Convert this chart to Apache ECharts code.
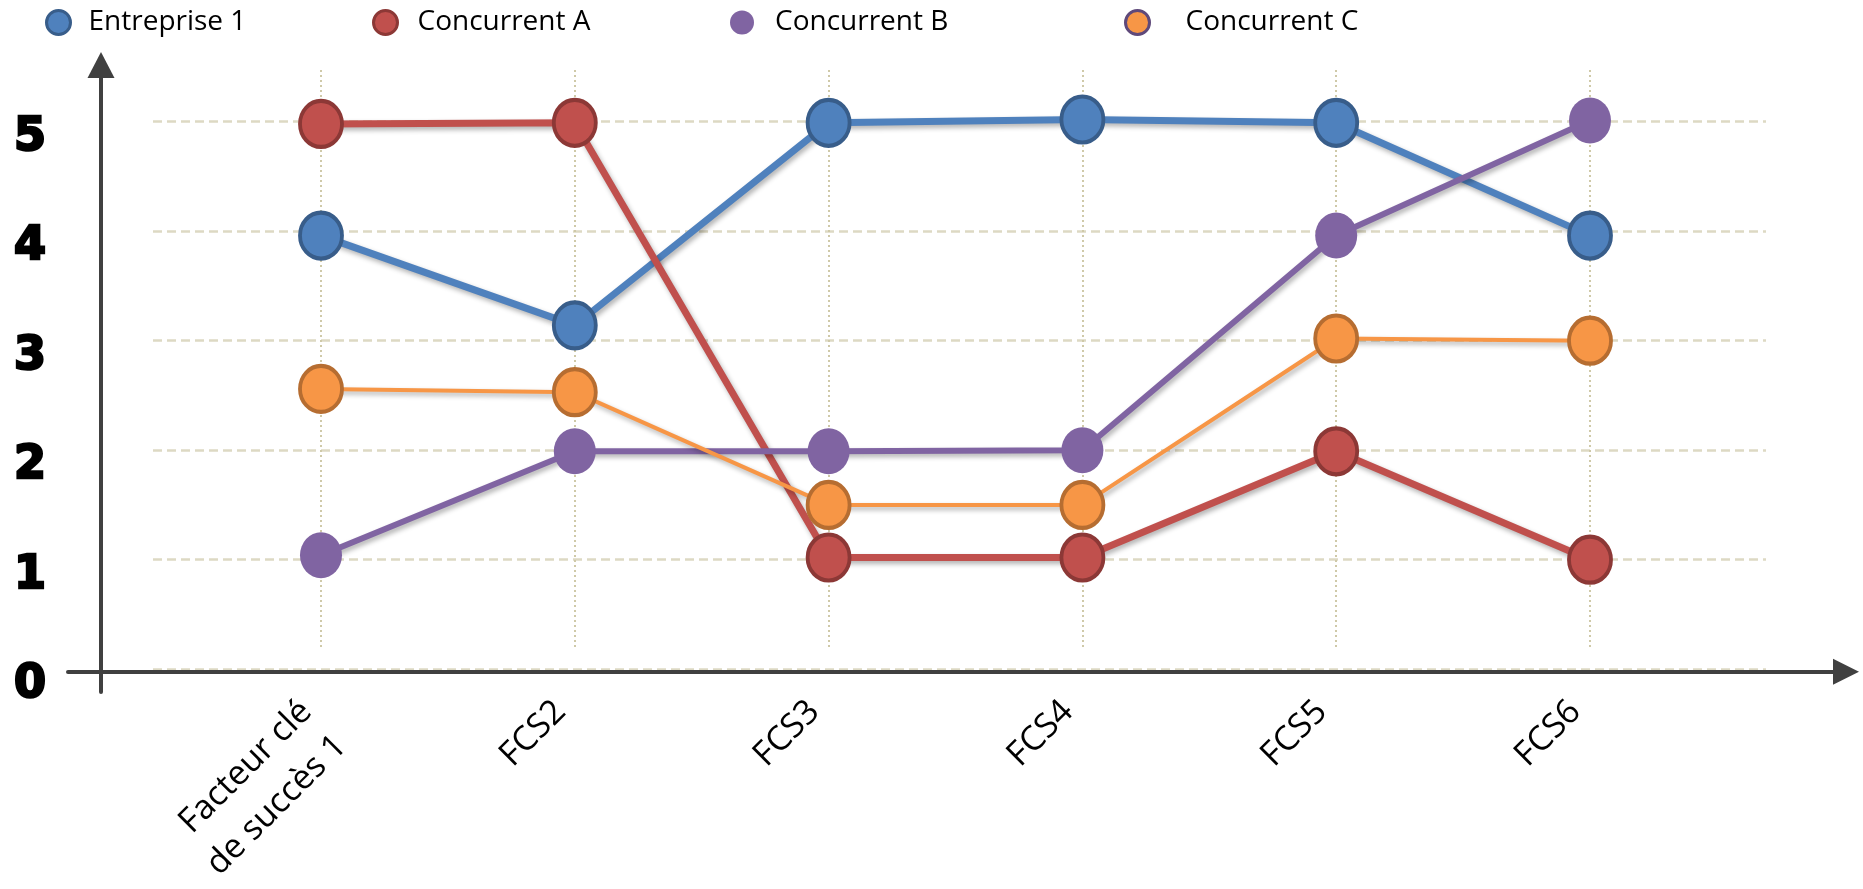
<!DOCTYPE html>
<html>
<head>
<meta charset="utf-8">
<script src="https://cdn.jsdelivr.net/npm/echarts@6/dist/echarts.min.js"></script>
<style>
html,body{margin:0;padding:0;background:#fff;}
#chart{width:1863px;height:889px;}
</style>
</head>
<body>
<div id="chart"></div>
<script>
var categories = ['Facteur clé\nde succès 1', 'FCS2', 'FCS3', 'FCS4', 'FCS5', 'FCS6'];
var yTickLabels = ['0', '1', '2', '3', '4', '5'];
var seriesNames = ['Entreprise 1', 'Concurrent A', 'Concurrent B', 'Concurrent C'];
var entreprise1 = [3.96, 3.14, 4.99, 5.02, 4.99, 3.96];
var concurrentA = [4.98, 4.99, 1.02, 1.02, 1.99, 1.0];
var concurrentB = [1.04, 1.99, 1.99, 2.0, 3.96, 5.01];
var concurrentC = [2.56, 2.53, 1.5, 1.5, 3.02, 3.0];

var ELLIPSE = 'path://M0,-1A1,1,0,1,1,0,1A1,1,0,1,1,0,-1Z';
var FONT = 'Open Sans';
var AXIS_COLOR = '#404040';

var styles = [
  {line: '#4F81BD', fill: '#4F81BD', border: '#385D8A', bw: 4, lw: 7, legendBorder: '#385D8A'},
  {line: '#C0504D', fill: '#C0504D', border: '#8C3836', bw: 4, lw: 7, legendBorder: '#8C3836'},
  {line: '#8064A2', fill: '#8064A2', border: '#8064A2', bw: 0, lw: 6, legendBorder: '#8064A2'},
  {line: '#F79646', fill: '#F79646', border: '#B66D31', bw: 4, lw: 4, legendBorder: '#5F497A'}
];
var values = [entreprise1, concurrentA, concurrentB, concurrentC];

var legendLefts = [45, 372, 730, 1124];
var legendTextPad = [13, 15, 16, 31];

var legends = seriesNames.map(function (n, i) {
  return {
    left: legendLefts[i], top: 8.5, padding: 0,
    itemWidth: 24, itemHeight: 27,
    selectedMode: false,
    textStyle: {fontFamily: FONT, fontSize: 28, color: '#000', padding: [0, 0, 0, legendTextPad[i]]},
    data: [{
      name: n, icon: ELLIPSE,
      itemStyle: {color: styles[i].fill, borderColor: styles[i].legendBorder, borderWidth: i === 2 ? 0 : 3}
    }]
  };
});

var series = seriesNames.map(function (n, i) {
  var s = styles[i];
  return {
    name: n, type: 'line', xAxisIndex: 4, yAxisIndex: 4,
    data: values[i], clip: false,
    symbol: ELLIPSE, symbolSize: [42, 46], showSymbol: true,
    lineStyle: {color: s.line, width: s.lw, shadowColor: 'rgba(0,0,0,0.3)', shadowBlur: 5, shadowOffsetX: 2, shadowOffsetY: 3},
    itemStyle: {color: s.fill, borderColor: s.border, borderWidth: s.bw},
    emphasis: {disabled: true},
    z: 3 + i
  };
});

function g(o) { o.outerBoundsMode = 'none'; o.containLabel = false; return o; }

var chart = echarts.init(document.getElementById('chart'), null, {renderer: 'canvas'});
chart.setOption({
  animation: false,
  backgroundColor: '#fff',
  legend: legends,
  grid: [
    g({left: 321, right: 273, top: 70, bottom: 239}),          // vertical dotted lines
    g({left: 153, right: 97, top: 121.7, bottom: 219.8}),       // horizontal dashed lines
    g({left: 68, right: 17, top: 121.7, bottom: 217.3}),        // x axis line with arrow
    g({left: 101, right: 1700, top: 65, bottom: 197}),          // y axis line with arrow
    g({left: 321, right: 273, top: 121.7, bottom: 219.8}),      // data
    g({left: 153, right: 97, top: 137.7, bottom: 203.8})        // y tick labels (set slightly lower)
  ],
  xAxis: [
    {gridIndex: 0, type: 'category', data: categories, boundaryGap: false,
      axisLine: {show: false}, axisTick: {show: false}, axisLabel: {show: false},
      splitLine: {show: true, interval: 0, lineStyle: {color: '#CFC9A8', width: 2, type: [2, 3]}}},
    {gridIndex: 1, type: 'value', show: false},
    {gridIndex: 2, type: 'value', min: 0, max: 1,
      axisLine: {show: true, onZero: false, symbol: ['none', 'triangle'], symbolSize: [26, 26], lineStyle: {color: AXIS_COLOR, width: 4}},
      axisTick: {show: false}, axisLabel: {show: false}, splitLine: {show: false}},
    {gridIndex: 3, type: 'value', show: false},
    {gridIndex: 4, type: 'category', data: categories, boundaryGap: false,
      axisLine: {show: false}, axisTick: {show: false}, splitLine: {show: false},
      axisLabel: {interval: 0, rotate: 45, margin: -12, verticalAlign: 'top', color: '#000',
        fontFamily: FONT, fontSize: 34, lineHeight: 49,
        formatter: function (v) {
          return v.split('\n').map(function (l) { return '{a|' + l + '}'; }).join('\n');
        },
        rich: {a: {fontFamily: FONT, fontSize: 34, lineHeight: 49, color: '#000', padding: [0, 45, 0, 0]}}}},
    {gridIndex: 5, type: 'value', show: false}
  ],
  yAxis: [
    {gridIndex: 0, type: 'value', show: false},
    {gridIndex: 1, type: 'value', min: 0, max: 5, interval: 1,
      axisLine: {show: false}, axisTick: {show: false}, axisLabel: {show: false},
      splitLine: {show: true, lineStyle: {color: '#DDD9C3', width: 2.5, type: [9, 5]}}},
    {gridIndex: 2, type: 'value', show: false, min: 0, max: 1},
    {gridIndex: 3, type: 'value', min: 0, max: 1,
      axisLine: {show: true, onZero: false, symbol: ['none', 'triangle'], symbolSize: [27, 26], lineStyle: {color: AXIS_COLOR, width: 4}},
      axisTick: {show: false}, axisLabel: {show: false}, splitLine: {show: false}},
    {gridIndex: 4, type: 'value', min: 0, max: 5, interval: 1, show: false},
    {gridIndex: 5, type: 'value', min: 0, max: 5, interval: 1,
      axisLine: {show: false}, axisTick: {show: false}, splitLine: {show: false},
      axisLabel: {margin: 123, align: 'center', verticalAlign: 'middle',
        fontFamily: 'DejaVu Sans', fontWeight: 'bold', fontSize: 46, color: '#000',
        textBorderColor: '#000', textBorderWidth: 2.5,
        formatter: function (v) { return yTickLabels[v]; }}}
  ],
  series: series
});
</script>
</body>
</html>
